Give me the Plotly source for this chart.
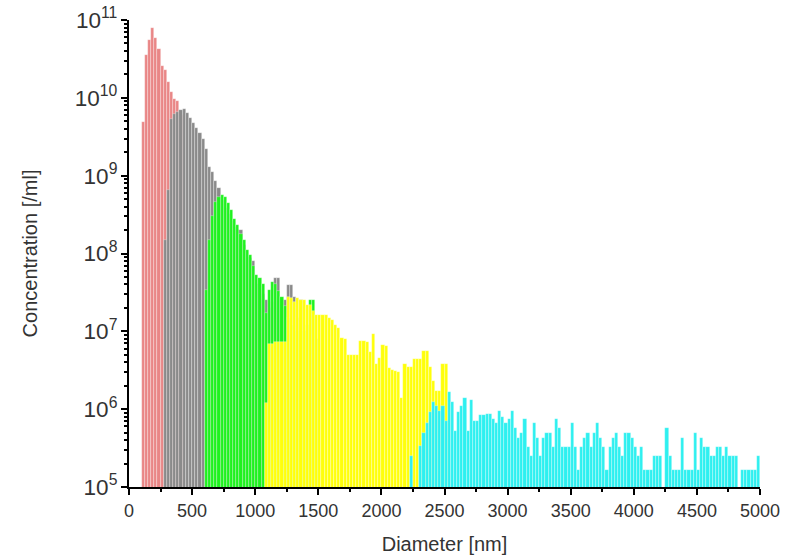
import numpy as np
import plotly.graph_objects as go

# particle size distribution, 25 nm bins, one list per population
bin_width = 25

red_start = 100
red_conc = [4.9e9, 3.6e10, 5.5e10, 7.8e10, 5.8e10, 4.3e10, 2.6e10, 2.3e10,
            1.6e10, 1.2e10, 9.8e9, 9.0e9, 6.0e9]

grey_start = 275
grey_conc = [1.5e8, 6.5e8, 5.4e9, 6.2e9, 6.6e9, 7.0e9, 7.1e9, 6.3e9, 5.5e9,
             4.7e9, 4.1e9, 3.5e9, 3.0e9, 2.2e9, 1.3e9, 1.1e9, 8.5e8, 7.0e8,
             4.8e8, 3.9e8, 3.2e8, 2.6e8, 2.2e8, 2.0e8, 2.0e8, 1.3e8, 9.0e7,
             8.7e7, 8.1e7, 4.0e7, 2.5e7, 3.0e7, 2.5e7, 2.0e7, 2.4e7, 4.8e7,
             4.8e7, 2.0e7, 2.5e7, 3.9e7, 3.9e7, 2.8e7, 1.5e7, 2.5e7]

green_start = 600
green_conc = [3.4e7, 1.5e8, 3.0e8, 4.6e8, 5.3e8, 5.7e8, 5.3e8, 4.4e8, 3.6e8,
              2.8e8, 2.3e8, 1.8e8, 1.5e8, 1.1e8, 9.6e7, 7.0e7, 5.3e7, 4.8e7,
              4.1e7, 1.7e7, 3.4e7, 4.3e7, 4.1e7, 3.3e7, 2.8e7, 2.1e7, 1.5e7,
              1.2e7, 1.0e7, 1.0e7, 1.0e7, 1.0e7, 1.2e7, 2.5e7, 2.5e7, 8.0e6]

yellow_start = 1075
yellow_conc = [1.2e6, 6.9e6, 6.9e6, 7.2e6, 7.2e6, 7.2e6, 7.2e6, 2.8e7, 2.7e7,
               2.4e7, 2.7e7, 2.5e7, 2.5e7, 2.2e7, 2.2e7, 1.8e7, 1.6e7, 1.6e7,
               1.6e7, 1.6e7, 1.5e7, 1.4e7, 1.2e7, 1.1e7, 8.1e6, 8.0e6, 4.9e6,
               4.9e6, 4.9e6, 4.9e6, 7.6e6, 7.6e6, 7.2e6, 5.4e6, 9.3e6, 3.8e6,
               4.5e6, 6.6e6, 6.5e6, 3.4e6, 3.2e6, 3.1e6, 3.0e6, 1.4e6, 3.8e6,
               3.5e6, 3.5e6, 4.4e6, 4.4e6, 4.4e6, 5.6e6, 5.6e6, 3.5e6, 2.3e6,
               1.7e6, 1.7e6, 3.8e6, 3.8e6]

cyan_start = 2225
cyan_conc = [2.5e5, None, None, 3.4e5, 5.0e5, 6.7e5, 9.1e5, 1.23e6, 1.1e6,
             9.5e5, 1.1e6, 7.0e5, 1.67e6, 1.23e6, 5.2e5, 9.1e5, 1.1e6, 1.4e6,
             5.2e5, 1.3e6, 7.0e5, 7.0e5, 8.3e5, 8.3e5, 8.7e5, 8.7e5, 7.5e5,
             6.7e5, 9.5e5, 8.0e5, 6.7e5, 7.5e5, 9.5e5, 5.8e5, 4.2e5, 5.0e5,
             7.5e5, 3.3e5, 2.5e5, 6.7e5, 4.2e5, 2.5e5, 4.2e5, 5.0e5, 5.0e5,
             3.3e5, 7.5e5, 5.8e5, 3.3e5, 3.3e5, 3.3e5, 6.7e5, 3.3e5, 1.67e5,
             3.3e5, 4.2e5, 5.0e5, 3.3e5, 5.0e5, 6.7e5, 4.2e5, 3.3e5, 1.67e5,
             3.3e5, 4.2e5, 5.0e5, 3.3e5, 2.5e5, 5.0e5, 5.0e5, 4.2e5, 3.3e5,
             2.5e5, 3.3e5, 1.67e5, 1.67e5, 1.67e5, 2.5e5, 2.5e5, 2.5e5, None,
             5.8e5, 2.5e5, 1.67e5, 1.67e5, 1.67e5, 4.2e5, 1.67e5, 1.67e5,
             1.67e5, 5.0e5, 1.67e5, 4.2e5, 3.3e5, 3.3e5, 2.5e5, 2.5e5, 3.3e5,
             3.3e5, 2.5e5, 3.3e5, 2.5e5, 2.5e5, 2.5e5, None, 1.67e5, 1.67e5,
             1.67e5, 1.67e5, 1.67e5, 2.5e5]

populations = [
    (red_start, red_conc, "#e98686"),
    (grey_start, grey_conc, "#8a8a8a"),
    (green_start, green_conc, "#1ef21e"),
    (yellow_start, yellow_conc, "#ffff0a"),
    (cyan_start, cyan_conc, "#2ef0f0"),
]

fig = go.Figure()
for start, conc, col in populations:
    x = start + bin_width / 2 + bin_width * np.arange(len(conc))
    fig.add_trace(go.Bar(
        x=x, y=conc, width=bin_width,
        marker=dict(color=col, line=dict(color="rgba(255,255,255,0.5)", width=0.6)),
        showlegend=False,
    ))

tick_font = dict(family="Liberation Sans, Arial", size=18, color="#333333")
title_font = dict(family="Liberation Sans, Arial", size=20, color="#333333")

fig.update_layout(
    width=787, height=557,
    margin=dict(l=129, r=27, t=20, b=70),
    paper_bgcolor="white", plot_bgcolor="white",
    barmode="overlay", bargap=0,
    font=tick_font,
)
fig.update_xaxes(
    range=[0, 5000], dtick=500, tick0=0, automargin=False,
    ticklabeloverflow="allow",
    showline=True, linecolor="black", linewidth=2,
    ticks="outside", ticklen=6, tickwidth=1.5, tickcolor="black",
    minor=dict(dtick=250, ticks="outside", ticklen=3, tickcolor="black", showgrid=False),
    showgrid=False, zeroline=False,
    tickfont=tick_font,
    title=dict(text="Diameter [nm]", font=title_font, standoff=17),
)
fig.update_yaxes(
    type="log", range=[5, 11], dtick=1, automargin=False,
    ticklabeloverflow="allow",
    exponentformat="power", showexponent="all",
    showline=True, linecolor="black", linewidth=2,
    ticks="outside", ticklen=6, tickwidth=1.5, tickcolor="black",
    minor=dict(dtick="D1", ticks="outside", ticklen=3, tickcolor="black", showgrid=False),
    showgrid=False, zeroline=False,
    tickfont=tick_font,
    title=dict(text="Concentration [/ml]", font=title_font, standoff=32),
)

# drop the default body margin so the figure fills the window exactly
fig.write_html("out.html", config={"displayModeBar": False},
               post_script="document.body.style.margin='0';")
